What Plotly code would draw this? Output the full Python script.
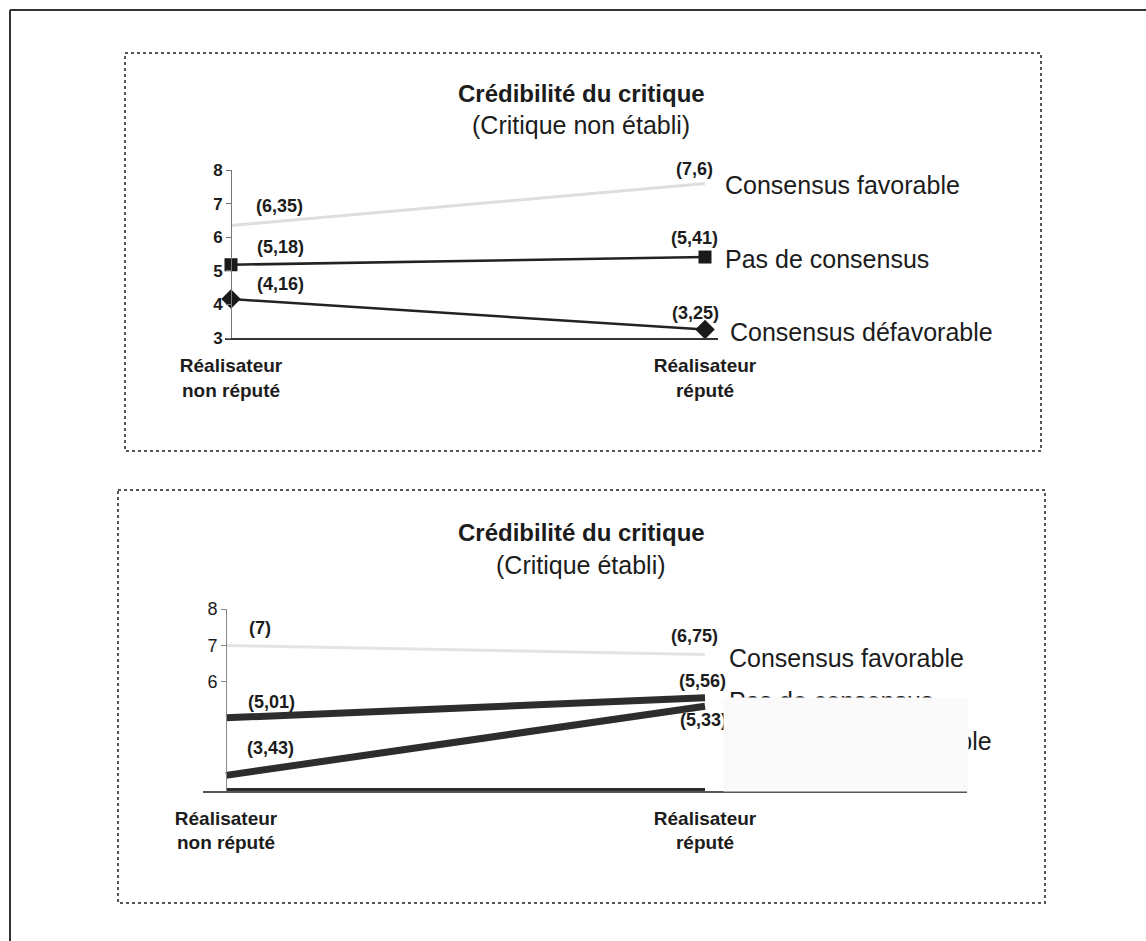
import plotly.graph_objects as go

W, H = 1146, 941

# ---------------- data ----------------
categories = ["Réalisateur<br>non réputé", "Réalisateur<br>réputé"]
x_idx = [0, 1]
series_names = ["Consensus favorable", "Pas de consensus", "Consensus défavorable"]

# Critique non établi
ne_favorable = [6.35, 7.6]
ne_pas = [5.18, 5.41]
ne_defavorable = [4.16, 3.25]

# Critique établi
e_favorable = [7.0, 6.75]
e_pas = [5.01, 5.56]
e_defavorable = [3.43, 5.33]

y_range = [3, 8]
y_ticks_top = [3, 4, 5, 6, 7, 8]
y_ticks_bottom = [6, 7, 8]

title_main = "Crédibilité du critique"
subtitle_top = "(Critique non établi)"
subtitle_bottom = "(Critique établi)"

FONT = "Liberation Sans"
INK = "#1c1c1c"


def px(x):
    return x / W


def py(y):
    return 1 - y / H


def fmt(v):
    return "(" + f"{v:g}".replace(".", ",") + ")"


fig = go.Figure()

# ---------------- top chart traces ----------------
fig.add_trace(go.Scatter(x=x_idx, y=ne_favorable, mode="lines",
                         line=dict(color="#dedede", width=3),
                         xaxis="x", yaxis="y", cliponaxis=False, showlegend=False))
fig.add_trace(go.Scatter(x=x_idx, y=ne_pas, mode="lines+markers",
                         line=dict(color="#222", width=2.5),
                         marker=dict(symbol="square", size=13, color="#1a1a1a"),
                         xaxis="x", yaxis="y", cliponaxis=False, showlegend=False))
fig.add_trace(go.Scatter(x=x_idx, y=ne_defavorable, mode="lines+markers",
                         line=dict(color="#222", width=2.5),
                         marker=dict(symbol="diamond", size=15, color="#1a1a1a"),
                         xaxis="x", yaxis="y", cliponaxis=False, showlegend=False))

# ---------------- bottom chart traces ----------------
fig.add_trace(go.Scatter(x=x_idx, y=[y_range[0], y_range[0]], mode="lines",
                         line=dict(color="#2b2e2b", width=6),
                         xaxis="x2", yaxis="y2", cliponaxis=False, showlegend=False))
fig.add_trace(go.Scatter(x=x_idx, y=e_favorable, mode="lines",
                         line=dict(color="#e4e4e4", width=3),
                         xaxis="x2", yaxis="y2", cliponaxis=False, showlegend=False))
fig.add_trace(go.Scatter(x=x_idx, y=e_pas, mode="lines",
                         line=dict(color="#2b2e2b", width=7),
                         xaxis="x2", yaxis="y2", cliponaxis=False, showlegend=False))
fig.add_trace(go.Scatter(x=x_idx, y=e_defavorable, mode="lines",
                         line=dict(color="#2b2e2b", width=7),
                         xaxis="x2", yaxis="y2", cliponaxis=False, showlegend=False))

annotations = []

# titles
for cy_t, cy_s, sub in [(93, 125, subtitle_top), (532, 565, subtitle_bottom)]:
    annotations.append(dict(x=px(581), y=py(cy_t), xref="paper", yref="paper",
                            text=title_main, showarrow=False, xanchor="center", yanchor="middle",
                            font=dict(family=FONT, size=24, color=INK, weight="bold")))
    annotations.append(dict(x=px(581), y=py(cy_s), xref="paper", yref="paper",
                            text=sub, showarrow=False, xanchor="center", yanchor="middle",
                            font=dict(family=FONT, size=25, color=INK)))

# value labels and series names
top_series = [ne_favorable, ne_pas, ne_defavorable]
top_label_offsets = [[(48, 19), (-11, 14)], [(49, 18), (-11, 19)], [(49, 15), (-10, 17)]]
top_name_offsets = [(18, -2), (18, -2), (23, -2)]

bot_series = [e_favorable, e_pas, e_defavorable]
bot_label_offsets = [[(34, 17), (-11, 19)], [(45, 16), (-3, 17)], [(44, 27), (-2, -14)]]
bot_name_offsets = [(22, -3), (22, -3), (22, -35)]

for (xr, yr, series, loffs, noffs) in [("x", "y", top_series, top_label_offsets, top_name_offsets),
                                       ("x2", "y2", bot_series, bot_label_offsets, bot_name_offsets)]:
    for s, vals in enumerate(series):
        for i, v in enumerate(vals):
            dx, dy = loffs[s][i]
            annotations.append(dict(x=x_idx[i], y=v, xref=xr, yref=yr, text=fmt(v),
                                    showarrow=False, xanchor="center", yanchor="middle",
                                    xshift=dx, yshift=dy,
                                    font=dict(family=FONT, size=18, color=INK, weight="bold")))
        dx, dy = noffs[s]
        annotations.append(dict(x=x_idx[1], y=vals[1], xref=xr, yref=yr, text=series_names[s],
                                showarrow=False, xanchor="left", yanchor="middle",
                                xshift=dx, yshift=dy,
                                font=dict(family=FONT, size=25, color=INK)))

# washed-out patch of the scan over the lower chart's labels
annotations.append(dict(x=px(723), y=py(697), xref="paper", yref="paper", text="&nbsp;",
                        showarrow=False, xanchor="left", yanchor="top", width=244, height=93,
                        borderpad=0, bgcolor="#fafafa", font=dict(size=10)))

shapes = [
    # outer frame (top and left edges)
    dict(type="line", xref="paper", yref="paper", x0=px(10), x1=1, y0=py(10), y1=py(10),
         line=dict(color="#333", width=2)),
    dict(type="line", xref="paper", yref="paper", x0=px(10), x1=px(10), y0=py(10), y1=0,
         line=dict(color="#333", width=2)),
    # dotted boxes
    dict(type="rect", xref="paper", yref="paper", x0=px(125), x1=px(1041), y0=py(53), y1=py(451),
         line=dict(color="#555", width=2, dash="dot")),
    dict(type="rect", xref="paper", yref="paper", x0=px(118), x1=px(1045), y0=py(490), y1=py(903),
         line=dict(color="#555", width=2, dash="dot")),
]

axis_common = dict(showgrid=False, zeroline=False, automargin=False)

fig.update_layout(
    template="none",
    width=W, height=H,
    margin=dict(l=0, r=0, t=0, b=0, pad=0, autoexpand=False),
    paper_bgcolor="white", plot_bgcolor="rgba(0,0,0,0)",
    showlegend=False,
    annotations=annotations,
    shapes=shapes,
    xaxis=dict(domain=[px(225), px(718)], range=[-6 / 474, 1 + 13 / 474], anchor="y",
               showline=True, linecolor="#333", linewidth=2,
               tickmode="array", tickvals=x_idx, ticktext=categories, ticks="",
               ticklabelstandoff=9,
               tickfont=dict(family=FONT, size=19, color=INK, weight="bold"), **axis_common),
    yaxis=dict(domain=[py(338), py(170)], range=y_range, anchor="free", position=px(231),
               showline=True, linecolor="#777", linewidth=1,
               ticks="outside", ticklen=5, tickcolor="#777",
               tickmode="array", tickvals=y_ticks_top,
               tickfont=dict(family=FONT, size=17, color=INK, weight="bold"), **axis_common),
    xaxis2=dict(domain=[px(203), px(967)], range=[-23 / 479, 1 + 262 / 479], anchor="y2",
                showline=True, linecolor="#555", linewidth=1.5,
                tickmode="array", tickvals=x_idx, ticktext=categories, ticks="",
                ticklabelstandoff=9,
                tickfont=dict(family=FONT, size=19, color=INK, weight="bold"), **axis_common),
    yaxis2=dict(domain=[py(791), py(609)], range=y_range, anchor="free", position=px(226),
                showline=True, linecolor="#888", linewidth=1,
                ticks="outside", ticklen=5, tickcolor="#888",
                tickmode="array", tickvals=y_ticks_bottom,
                tickfont=dict(family=FONT, size=18, color=INK), **axis_common),
)

fig.write_html("out.html", config={"displayModeBar": False},
               post_script="document.body.style.margin='0px';")
